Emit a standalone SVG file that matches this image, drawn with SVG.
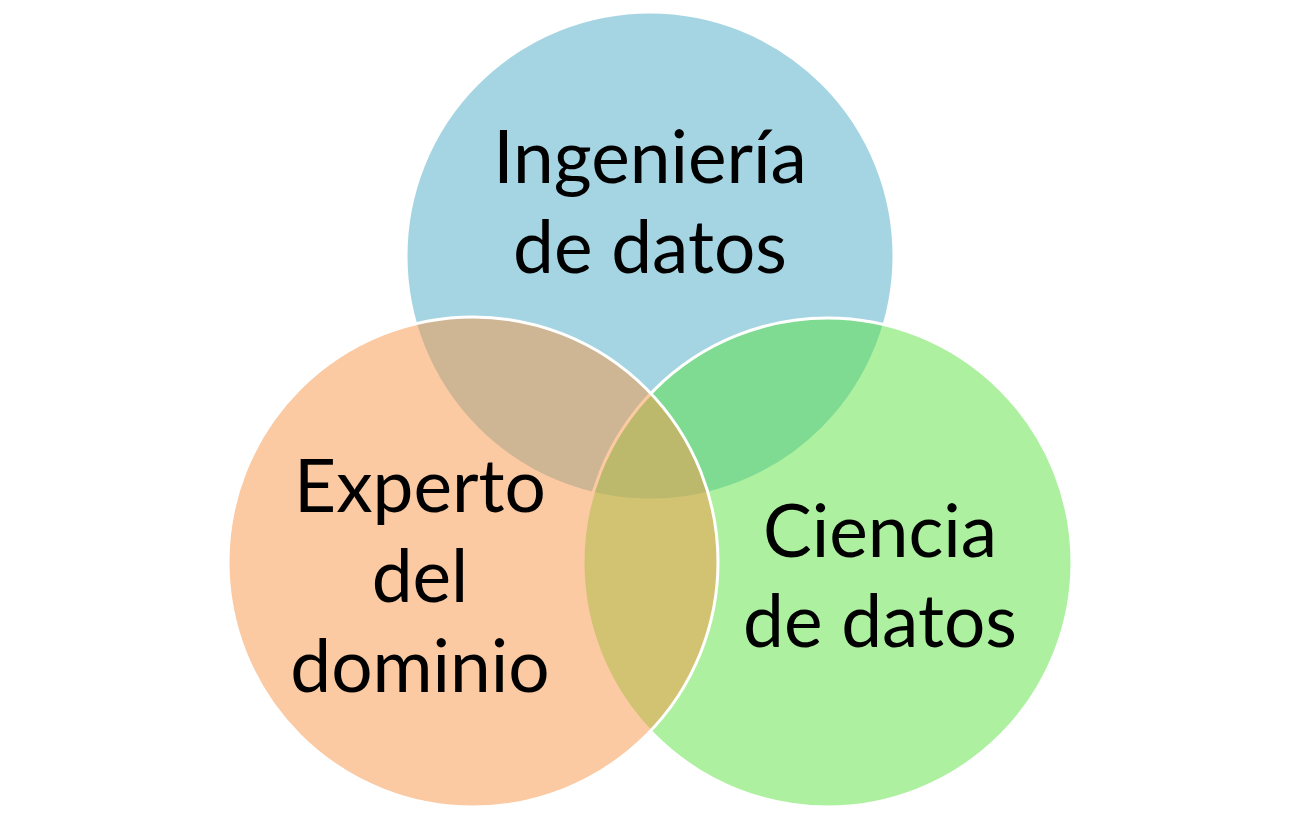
<svg xmlns="http://www.w3.org/2000/svg" width="1300" height="820" viewBox="0 0 1300 820">
  <style>
    .c { stroke: #ffffff; stroke-width: 3; fill-opacity: 0.5; }
    .t { font-family: Lato, "Liberation Sans", sans-serif; font-size: 73px; fill: #000000; text-anchor: middle; }
  </style>
  <rect width="1300" height="820" fill="#ffffff"/>
  <g id="ingenieria">
    <circle class="c" cx="650" cy="256" r="244" fill="#4BACC6"/>
  </g>
  <g id="ciencia">
    <circle class="c" cx="827.5" cy="562.5" r="244.5" fill="#5CE142"/>
  </g>
  <g id="experto">
    <circle class="c" cx="473" cy="562" r="245" fill="#F79646"/>
  </g>
  <g id="labels">
    <text class="t" x="650" y="183">Ingeniería</text>
    <text class="t" x="650" y="273">de datos</text>
    <text class="t" x="420" y="512">Experto</text>
    <text class="t" x="420" y="602">del</text>
    <text class="t" x="420" y="692">dominio</text>
    <text class="t" x="880" y="557">Ciencia</text>
    <text class="t" x="880" y="647">de datos</text>
  </g>
  <g id="connectors"/>
</svg>
